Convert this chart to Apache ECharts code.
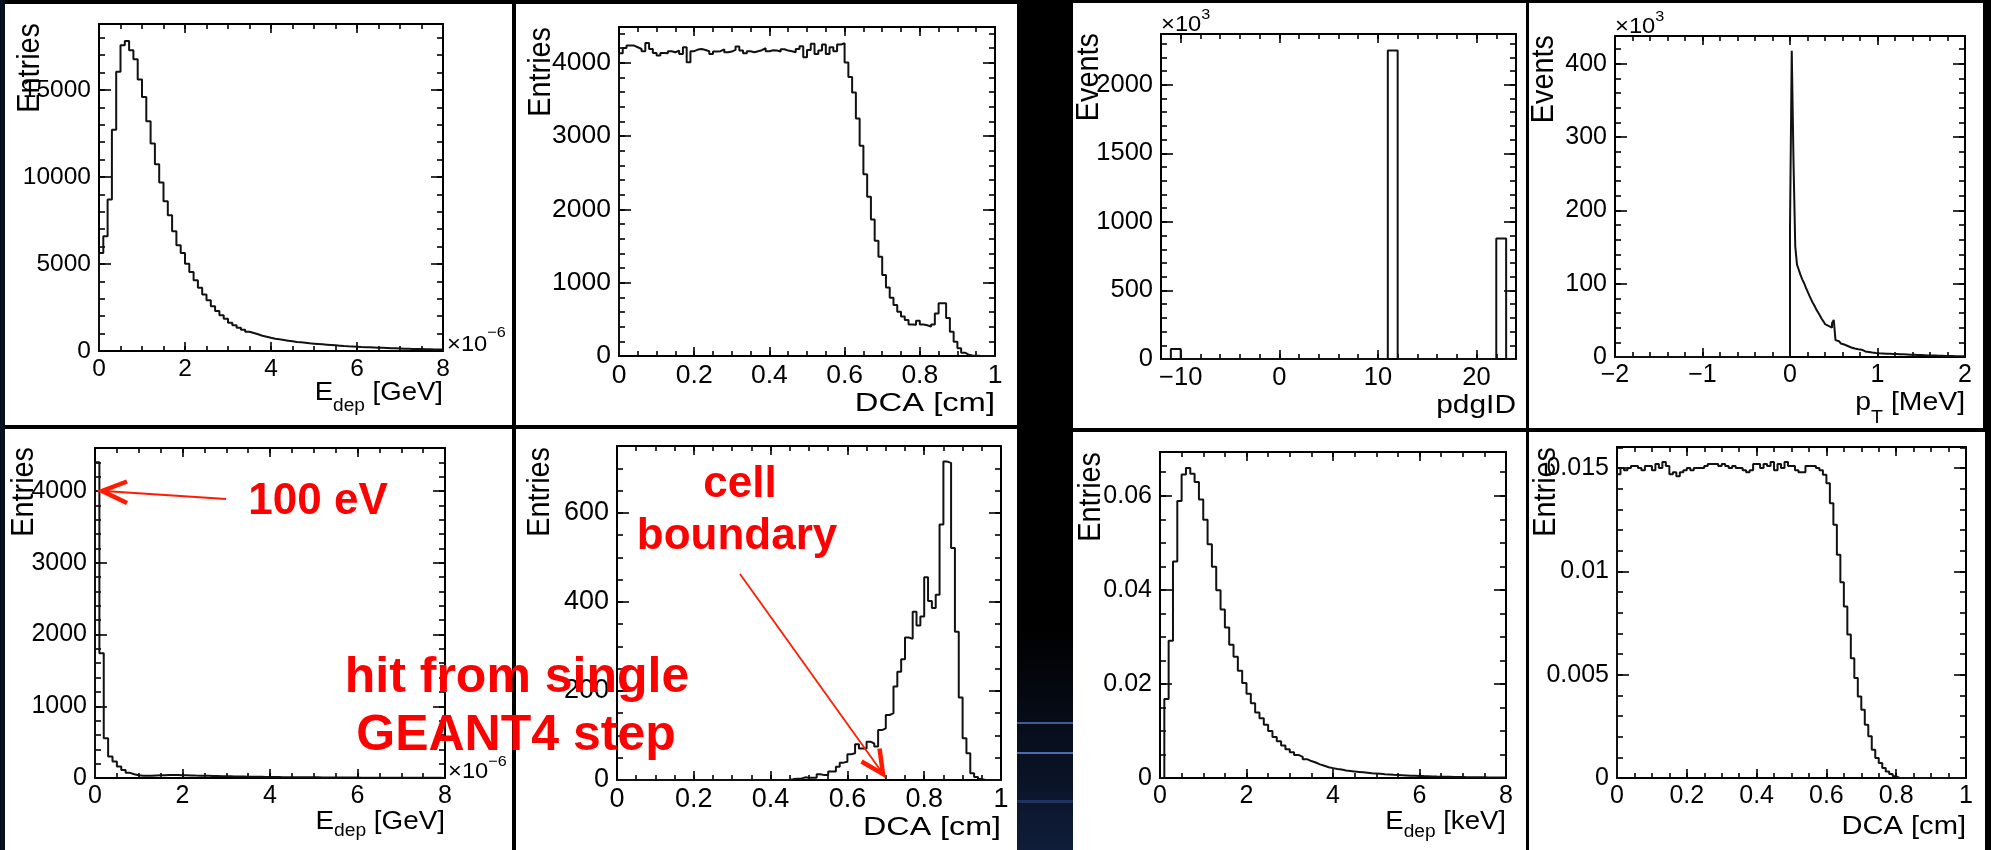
<!DOCTYPE html>
<html><head><meta charset="utf-8">
<script src="https://cdn.jsdelivr.net/npm/echarts@6/dist/echarts.min.js"></script>
<style>html,body{margin:0;padding:0;background:#000;}#c{width:1991px;height:850px;}</style>
</head><body><div id="c"></div>
<script>
// ---------------- DATA ----------------
// Top-left: E_dep [GeV] (x10^-6), 80 bins of 0.1 from 0
const edepBins = { lo: 0, width: 0.1 };
const edepGeVEntries = [
  5630, 6590, 8700, 12720, 16040, 17570, 17820, 17280, 16770, 15600,
  14600, 13200, 11920, 10730, 9680, 8600, 7800, 6880, 6070, 5630,
  5020, 4540, 4060, 3640, 3240, 2910, 2570, 2300, 2050, 1860,
  1630, 1475, 1340, 1225, 1110, 1035, 958, 880, 824, 766,
  709, 670, 632, 594, 556, 517, 498, 479, 440, 421,
  402, 383, 364, 345, 326, 307, 288, 270, 260, 249,
  230, 220, 210, 200, 190, 181, 172, 163, 155, 147,
  134, 128, 121, 115, 109, 103, 97, 91, 85, 80
];
// Top, 2nd: DCA [cm], 100 bins of 0.01
const dcaBins = { lo: 0, width: 0.01 };
const dcaEntries = [
  4132, 4205, 4236, 4236, 4214, 4190, 4160, 4273, 4190, 4136,
  4100, 4136, 4132, 4160, 4145, 4168, 4123, 4214, 4009, 4160,
  4182, 4190, 4177, 4160, 4123, 4155, 4160, 4186, 4145, 4155,
  4177, 4223, 4168, 4132, 4160, 4145, 4160, 4173, 4200, 4160,
  4173, 4168, 4155, 4186, 4168, 4160, 4145, 4190, 4227, 4077,
  4177, 4260, 4123, 4168, 4250, 4123, 4214, 4160, 4250, 4268,
  4004, 3809, 3595, 3240, 2868, 2482, 2173, 1864, 1573, 1355,
  1105, 936, 795, 695, 605, 540, 490, 430, 425, 480,
  430, 420, 400, 430, 580, 720, 720, 520, 330, 195,
  105, 45, 18, 8, 4, 2, 1, 1, 0, 0
];
// Top, 3rd: pdgID (x10^3), 36 bins of 1 from -12
const pdgBins = { lo: -12, width: 1 };
const pdgIdEvents = [
  0, 73, 0, 0, 0, 0, 0, 0, 0, 0,
  0, 0, 0, 0, 0, 0, 0, 0, 0, 0,
  0, 0, 0, 2250, 0, 0, 0, 0, 0, 0,
  0, 0, 0, 0, 878, 0
];
// Top, 4th: p_T [MeV] (x10^3), bins of 0.02 from 0 to 2 (zero below 0)
const ptBins = { lo: 0, width: 0.02, axisStart: -2 };
const ptEvents = [
  178, 418, 267, 151, 126, 119, 112, 106, 101, 95,
  89.5, 84, 79, 74, 70, 65, 61, 57, 52.5, 49,
  45, 42.5, 41.5, 40, 46, 50.7, 23, 21.5, 20, 18.5,
  17, 16, 15, 14, 13, 12.2, 11.6, 11, 10.5, 10.2,
  10, 8, 7.6, 7.2, 6.8, 6.4, 6.0, 5.7, 5.4, 5.2,
  5.0, 4.9, 4.8, 4.7, 4.6, 4.5, 4.4, 4.3, 4.2, 4.1,
  4.0, 3.9, 3.8, 3.7, 3.6, 3.5, 3.4, 3.3, 3.2, 3.1,
  3.0, 2.9, 2.8, 2.7, 2.6, 2.5, 2.4, 2.3, 2.2, 2.1,
  2.0, 1.95, 1.9, 1.85, 1.8, 1.7, 1.65, 1.6, 1.5, 1.45,
  1.4, 1.35, 1.3, 1.2, 1.15, 1.1, 1.05, 1.0, 0.95, 0.9
];
// Bottom-left: single-step hits E_dep [GeV] (x10^-6)
const edepGeVSingleStep = [
  4400, 1740, 555, 300, 230, 160, 110, 72, 52, 38,
  33, 30, 32, 35, 38, 40, 42, 43, 42, 40,
  38, 36, 34, 33, 31, 30, 28, 27, 26, 24,
  23, 22, 21, 20, 19, 18, 17, 16, 15, 14,
  14, 13, 12, 12, 11, 11, 10, 10, 9, 9,
  9, 8, 8, 8, 7, 7, 7, 6, 6, 6,
  5, 5, 5, 5, 4, 4, 4, 4, 3, 3,
  3, 3, 3, 2, 2, 2, 2, 2, 2, 1
];
// Bottom, 2nd: single-step hits DCA [cm]
const dcaSingleStep = [
  0, 0, 0, 0, 0, 0, 0, 0, 0, 0,
  0, 0, 0, 0, 0, 0, 0, 0, 0, 0,
  0, 0, 0, 0, 0, 0, 0, 0, 0, 0,
  0, 0, 0, 0, 0, 0, 0, 0, 0, 0,
  0, 0, 0, 0, 0, 2, 3, 3, 6, 5,
  5, 5, 13, 11, 11, 19, 19, 30, 39, 41,
  58, 60, 80, 71, 71, 86, 82, 75, 112, 116,
  146, 150, 210, 243, 271, 320, 317, 378, 347, 367,
  455, 402, 386, 416, 574, 715, 712, 521, 333, 185,
  94, 60, 15, 7, 2, 0, 0, 0, 0, 0
];
// Bottom, 3rd: E_dep [keV] normalised
const edepKeVNorm = [
  0, 0.0168, 0.0292, 0.0460, 0.0589, 0.0645, 0.0659, 0.0647, 0.0629, 0.0592,
  0.0549, 0.0497, 0.0449, 0.0399, 0.0358, 0.0320, 0.0283, 0.0258, 0.0228, 0.0202,
  0.0179, 0.0159, 0.0139, 0.0127, 0.0113, 0.0100, 0.0087, 0.0078, 0.0069, 0.0061,
  0.0055, 0.0049, 0.0045, 0.0040, 0.0036, 0.0033, 0.0029, 0.0026, 0.0023, 0.0021,
  0.0019, 0.0018, 0.0016, 0.0015, 0.0014, 0.0013, 0.0012, 0.0011, 0.0010, 0.00095,
  0.0009, 0.00082, 0.00076, 0.0007, 0.00065, 0.0006, 0.00055, 0.0005, 0.00047, 0.00044,
  0.0004, 0.00037, 0.00034, 0.00031, 0.00029, 0.00027, 0.00025, 0.00023, 0.00021, 0.0002,
  0.00018, 0.00017, 0.00016, 0.00015, 0.00014, 0.00013, 0.00012, 0.00011, 0.0001, 0.00009
];
// Bottom, 4th: DCA [cm] normalised
const dcaNorm = [
  0.0147, 0.0150, 0.0149, 0.0150, 0.0151, 0.0151, 0.0150, 0.0149, 0.0151, 0.0151,
  0.0149, 0.0152, 0.0150, 0.0153, 0.0151, 0.0147, 0.0148, 0.0146, 0.0148, 0.0149,
  0.0150, 0.0149, 0.0150, 0.0150, 0.0150, 0.0151, 0.0152, 0.0152, 0.0152, 0.0151,
  0.0152, 0.0151, 0.0150, 0.0151, 0.0150, 0.0150, 0.0149, 0.0148, 0.0149, 0.0152,
  0.0152, 0.0150, 0.0152, 0.0151, 0.0153, 0.0149, 0.0152, 0.0150, 0.0153, 0.0151,
  0.0151, 0.0149, 0.0148, 0.0148, 0.0151, 0.0151, 0.0151, 0.0150, 0.0149, 0.01468,
  0.01427, 0.0133, 0.01226, 0.0108, 0.00948, 0.0083, 0.00694, 0.0058, 0.00484, 0.00395,
  0.0033, 0.00258, 0.00202, 0.00137, 0.00097, 0.00073, 0.00048, 0.00032, 0.00019, 0.00008,
  0, 0, 0, 0, 0, 0, 0, 0, 0, 0,
  0, 0, 0, 0, 0, 0, 0, 0, 0, 0
];
// Tick label values per panel
const ticksEdep = [0, 2, 4, 6, 8];
const ticksDca = [0, 0.2, 0.4, 0.6, 0.8, 1];
const ticksPdg = [-10, 0, 10, 20];
const ticksPt = [-2, -1, 0, 1, 2];

// ---------------- LAYOUT / STYLE ----------------
const FONT = '"Liberation Sans", Arial, Helvetica, sans-serif';
const INK = '#000';

function histPoints(bins, vals) {
  const pts = [];
  if (bins.axisStart !== undefined) pts.push([bins.axisStart, 0]);
  pts.push([bins.lo, 0]);
  vals.forEach((v, k) => pts.push([+(bins.lo + k * bins.width).toFixed(6), v]));
  const hi = +(bins.lo + vals.length * bins.width).toFixed(6);
  pts.push([hi, vals[vals.length - 1]]);
  pts.push([hi, 0]);
  return pts;
}

const panels = [
  { box: [99, 24, 443, 351], ticks: ticksEdep, xMinor: 0.5, yMax: 18790, yMaj: 5000, yMin: 1000, fs: 24.5, bins: edepBins, vals: edepGeVEntries },
  { box: [619, 27, 995, 356], ticks: ticksDca, xMinor: 0.05, yMax: 4490, yMaj: 1000, yMin: 200, fs: 26.5, bins: dcaBins, vals: dcaEntries },
  { box: [1161, 34, 1516, 359], ticks: ticksPdg, xRange: [-12, 24], xMinor: 2, yMax: 2370, yMaj: 500, yMin: 100, fs: 25.5, bins: pdgBins, vals: pdgIdEvents },
  { box: [1615, 36, 1965, 357], ticks: ticksPt, xMinor: 0.2, yMax: 438, yMaj: 100, yMin: 20, fs: 25, bins: ptBins, vals: ptEvents },
  { box: [95, 448, 445, 778], ticks: ticksEdep, xMinor: 0.5, yMax: 4600, yMaj: 1000, yMin: 200, fs: 25, bins: edepBins, vals: edepGeVSingleStep },
  { box: [617, 446, 1001, 780], ticks: ticksDca, xMinor: 0.05, yMax: 750, yMaj: 200, yMin: 50, fs: 27, bins: dcaBins, vals: dcaSingleStep },
  { box: [1160, 452, 1506, 778], ticks: ticksEdep, xMinor: 0.5, yMax: 0.0693, yMaj: 0.02, yMin: 0.005, fs: 25, bins: edepBins, vals: edepKeVNorm },
  { box: [1617, 447, 1966, 778], ticks: ticksDca, xMinor: 0.05, yMax: 0.01602, yMaj: 0.005, yMin: 0.001, fs: 25, bins: dcaBins, vals: dcaNorm }
];

function fmtTick(v) { return String(v).replace('-', '\u2212'); }

const grids = [], xAxes = [], yAxes = [], series = [];
panels.forEach((p, i) => {
  const [l, t, r, b] = p.box;
  grids.push({ left: l, top: t, width: r - l, height: b - t, containLabel: false, outerBoundsMode: 'none' });
  const tk = p.ticks;
  const xmin = p.xRange ? p.xRange[0] : tk[0];
  const xmax = p.xRange ? p.xRange[1] : tk[tk.length - 1];
  const xMaj = p.xRange ? null : +(tk[1] - tk[0]).toFixed(6);
  const lineS = { color: INK, width: 2 };
  const tickS = { color: INK, width: 1.6 };
  const xc = { type: 'value', gridIndex: i, min: xmin, max: xmax, splitLine: { show: false }, minorTick: { show: false }, silent: true };
  const xLabel = {
    show: true, margin: 6, color: INK, fontSize: p.fs, fontFamily: FONT, showMaxLabel: true, showMinLabel: true,
    formatter: v => (tk.some(tv => Math.abs(tv - v) < 1e-9) ? fmtTick(v) : '')
  };
  const xMajor = xMaj === null ? {} : { interval: xMaj };
  xAxes.push(
    Object.assign({}, xc, xMajor, { position: 'bottom', axisLine: { show: true, onZero: false, lineStyle: lineS }, axisTick: { show: true, inside: true, length: 9, lineStyle: tickS }, axisLabel: xLabel }),
    Object.assign({}, xc, xMajor, { position: 'top', axisLine: { show: true, onZero: false, lineStyle: lineS }, axisTick: { show: true, inside: true, length: 9, lineStyle: tickS }, axisLabel: { show: false } }),
    Object.assign({}, xc, { interval: p.xMinor, position: 'bottom', axisLine: { show: false, onZero: false }, axisTick: { show: true, inside: true, length: 5, lineStyle: tickS }, axisLabel: { show: false } }),
    Object.assign({}, xc, { interval: p.xMinor, position: 'top', axisLine: { show: false, onZero: false }, axisTick: { show: true, inside: true, length: 5, lineStyle: tickS }, axisLabel: { show: false } })
  );
  const yc = { type: 'value', gridIndex: i, min: 0, max: p.yMax, splitLine: { show: false }, minorTick: { show: false }, silent: true };
  yAxes.push(
    Object.assign({}, yc, { interval: p.yMaj, position: 'left', axisLine: { show: true, onZero: false, lineStyle: lineS }, axisTick: { show: true, inside: true, length: 12, lineStyle: tickS },
      axisLabel: { show: true, margin: 8, color: INK, fontSize: p.fs, fontFamily: FONT, showMaxLabel: false, showMinLabel: true, formatter: v => fmtTick(v) } }),
    Object.assign({}, yc, { interval: p.yMaj, position: 'right', axisLine: { show: true, onZero: false, lineStyle: lineS }, axisTick: { show: true, inside: true, length: 12, lineStyle: tickS }, axisLabel: { show: false } }),
    Object.assign({}, yc, { interval: p.yMin, position: 'left', axisLine: { show: false, onZero: false }, axisTick: { show: true, inside: true, length: 6, lineStyle: tickS }, axisLabel: { show: false } }),
    Object.assign({}, yc, { interval: p.yMin, position: 'right', axisLine: { show: false, onZero: false }, axisTick: { show: true, inside: true, length: 6, lineStyle: tickS }, axisLabel: { show: false } })
  );
  series.push({
    type: 'line', xAxisIndex: 4 * i, yAxisIndex: 4 * i, data: histPoints(p.bins, p.vals),
    step: 'end', symbol: 'none', showSymbol: false, silent: true, animation: false,
    lineStyle: { color: '#111', width: 2 }, emphasis: { disabled: true }
  });
});

// ---------------- background & text graphics ----------------
const cells = [
  [5, 4, 512, 425], [516, 4, 1017, 425], [5, 429, 512, 850], [516, 429, 1017, 850],
  [1073, 3, 1526, 428], [1529, 3, 1983, 428], [1073, 432, 1526, 850], [1529, 432, 1985, 850]
];
const graphics = [];
graphics.push({ type: 'rect', z: -20, silent: true, shape: { x: 1017, y: 630, width: 56, height: 220 },
  style: { fill: new echarts.graphic.LinearGradient(0, 0, 0, 1, [{ offset: 0, color: '#000' }, { offset: 1, color: '#0f1d3a' }]) } });
[[722, 2, '#3d5c98'], [752, 2, '#4a6cb0'], [800, 3, '#1f3360']].forEach(([y, h, c]) =>
  graphics.push({ type: 'rect', z: -19, silent: true, shape: { x: 1017, y: y, width: 56, height: h }, style: { fill: c } }));
graphics.push({ type: 'rect', z: -19, silent: true, shape: { x: 0, y: 0, width: 5, height: 850 }, style: { fill: '#07101f' } });
cells.forEach(([l, t, r, b]) => graphics.push({ type: 'rect', z: -10, silent: true, shape: { x: l, y: t, width: r - l, height: b - t }, style: { fill: '#fff' } }));

// Y titles (rotated, top aligned)
const yTitles = [
  [30, 23, 'Entries'], [541, 27, 'Entries'], [1089, 33, 'Events'], [1544, 35, 'Events'],
  [24, 447, 'Entries'], [540, 447, 'Entries'], [1091, 452, 'Entries'], [1546, 447, 'Entries']
];
yTitles.forEach(([x, y, t]) => graphics.push({
  type: 'text', z: 50, silent: true, x: x, y: y, rotation: Math.PI / 2, scaleX: 0.93,
  style: { text: t, fontSize: 31, fontFamily: FONT, fill: INK, align: 'right', verticalAlign: 'middle' }
}));

// X titles (right aligned)
function subTitle(main, sub, rest, pad) {
  return {
    text: '{m|' + main + '}{s|' + sub + '}{m|' + rest + '}',
    rich: {
      m: { fontSize: 26, fontFamily: FONT, fill: INK, lineHeight: 30 },
      s: { fontSize: 18, fontFamily: FONT, fill: INK, lineHeight: 20, padding: [pad, 0, 0, 0] }
    }
  };
}
function plainTitle(t) { return { text: t, fontSize: 26, fontFamily: FONT, fill: INK }; }
const xTitles = [
  [443, 393, 1.06, subTitle('E', 'dep', ' [GeV]', 26)],
  [995, 404, 1.26, plainTitle('DCA [cm]')],
  [1516, 406, 1.15, plainTitle('pdgID')],
  [1965, 403, 1.09, subTitle('p', 'T', ' [MeV]', 30)],
  [445, 822, 1.07, subTitle('E', 'dep', ' [GeV]', 18)],
  [1001, 828, 1.24, plainTitle('DCA [cm]')],
  [1506, 822, 1.06, subTitle('E', 'dep', ' [keV]', 20)],
  [1966, 827, 1.12, plainTitle('DCA [cm]')]
];
xTitles.forEach(([x, y, sx, st]) => graphics.push({
  type: 'text', z: 50, silent: true, x: x, y: y, scaleX: sx,
  style: Object.assign({ align: 'right', verticalAlign: 'middle' }, st)
}));

// exponent labels
function expLabel(x, y, exp, pad) {
  return {
    type: 'text', z: 50, silent: true, x: x, y: y, scaleX: 1.08,
    style: {
      text: '{m|\u00d710}{p|' + exp + '}', align: 'left', verticalAlign: 'middle',
      rich: {
        m: { fontSize: 22, fontFamily: FONT, fill: INK, lineHeight: 24 },
        p: { fontSize: 15, fontFamily: FONT, fill: INK, lineHeight: 16, padding: [0, 0, pad, 0] }
      }
    }
  };
}
graphics.push(expLabel(447, 345, '\u22126', 24));
graphics.push(expLabel(448, 772, '\u22126', 20));
graphics.push(expLabel(1161, 25, '3', 20));
graphics.push(expLabel(1615, 27, '3', 20));

// red annotations
const RED = '#ff0000';
function redText(x, y, t, size) {
  return { type: 'text', z: 60, silent: true, x: x, y: y,
    style: { text: t, fontSize: size, fontWeight: 'bold', fontFamily: FONT, fill: RED, align: 'center', verticalAlign: 'middle' } };
}
graphics.push(redText(318, 502, '100 eV', 44));
graphics.push(redText(740, 485, 'cell', 44));
graphics.push(redText(737, 537, 'boundary', 44));
graphics.push(redText(517, 678, 'hit from single', 50));
graphics.push(redText(516, 736, 'GEANT4 step', 50));
function poly(pts, w) {
  return { type: 'polyline', z: 60, silent: true, shape: { points: pts },
    style: { stroke: '#ff1a00', lineWidth: w, fill: null, lineJoin: 'miter', lineCap: 'butt' } };
}
graphics.push(poly([[226, 499], [104, 491]], 1.8));
graphics.push(poly([[127, 481.5], [102, 491], [127, 503]], 4.5));
graphics.push(poly([[740, 574], [881, 771]], 1.8));
graphics.push(poly([[861.5, 761.5], [883, 774], [879.5, 748.5]], 4.5));

const chart = echarts.init(document.getElementById('c'), null, { renderer: 'canvas', width: 1991, height: 850 });
chart.setOption({
  backgroundColor: '#000',
  animation: false,
  textStyle: { fontFamily: FONT },
  grid: grids,
  xAxis: xAxes,
  yAxis: yAxes,
  series: series,
  graphic: { elements: graphics }
});
</script></body></html>
